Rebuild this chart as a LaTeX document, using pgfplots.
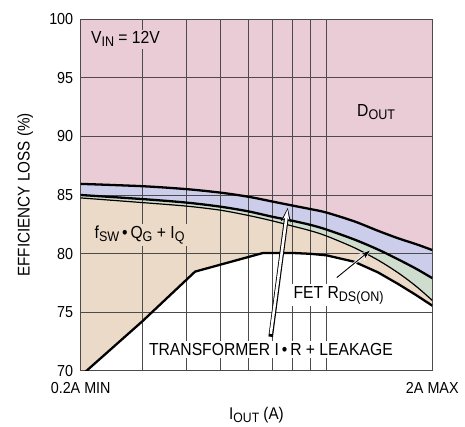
\documentclass[border=0pt]{standalone}
\usepackage{fontspec}
\setmainfont{Liberation Sans}[FakeStretch=0.9]
\usepackage{pgfplots}
\usepackage{pgfplotstable}
\pgfplotsset{compat=1.18}
\usetikzlibrary{arrows.meta}

\definecolor{dpink}{RGB}{233,204,214}
\definecolor{tblue}{RGB}{203,205,234}
\definecolor{fgreen}{RGB}{206,221,205}
\definecolor{qtan}{RGB}{235,218,200}
\definecolor{gridc}{RGB}{75,75,75}

\newcommand{\sub}[1]{\raisebox{-0.32ex}{\scalebox{0.8}{#1}}}

% D_OUT lower boundary (top of transformer band)
\pgfplotstableread{
x y
0.2 85.95
0.3 85.75
0.4 85.5
0.5 85.2
0.6 84.85
0.7 84.45
0.8 84.1
0.9 83.8
1.0 83.5
1.2 82.75
1.4 81.95
1.6 81.3
1.8 80.8
2.0 80.3
}\Lone
% transformer / FET boundary
\pgfplotstableread{
x y
0.2 85.0
0.3 84.65
0.4 84.35
0.5 84.0
0.6 83.6
0.7 83.15
0.8 82.8
0.9 82.45
1.0 82.05
1.2 81.2
1.4 80.35
1.6 79.5
1.8 78.7
2.0 77.9
}\Ltwo
% FET / switching boundary
\pgfplotstableread{
x y
0.2 84.75
0.3 84.35
0.4 84.05
0.5 83.7
0.6 83.25
0.7 82.8
0.8 82.35
0.9 81.95
1.0 81.5
1.2 80.5
1.4 79.45
1.6 78.35
1.8 77.2
2.0 76.0
}\Lthree
% efficiency (switching loss lower boundary)
\pgfplotstableread{
x y
0.2 69.55
0.3 74.24
0.423 78.46
0.66 80.05
0.8 80.05
0.9 79.98
1.0 79.85
1.2 79.3
1.4 78.4
1.6 77.4
1.8 76.45
2.0 75.55
}\Lfour

\begin{document}
\begin{tikzpicture}
\begin{axis}[
  set layers=standard,
  clip mode=individual,
  width=351.6bp, height=351.4bp, scale only axis,
  xmode=log, xmin=0.2, xmax=2, ymin=70, ymax=100,
  xtick={0.2,2}, xticklabels={0.2A MIN,2A MAX},
  minor xtick={0.3,0.4,0.5,0.6,0.7,0.8,0.9,1.0},
  xminorgrids=true, xmajorgrids=false,
  ytick={70,75,80,85,90,95,100}, ymajorgrids=true,
  tick style={draw=none},
  grid style={gridc, line width=0.8pt},
  minor grid style={gridc, line width=0.8pt},
  axis line style={gridc, line width=1pt},
  axis background/.style={fill=dpink},
  /pgf/number format/assume math mode=true,
  ticklabel style={font=\fontsize{16}{18}\selectfont},
  yticklabel style={xshift=-4pt},
  xticklabel style={yshift=-8pt},
  xlabel={I\sub{OUT} (A)},
  ylabel={EFFICIENCY LOSS (\%)},
  label style={font=\fontsize{17}{19}\selectfont},
  xlabel style={at={(axis description cs:0.5,-0.127)}, anchor=center},
  ylabel style={at={(axis description cs:-0.158,0.5)}, anchor=center},
]
\addplot[on layer=axis background, fill=tblue, draw=none, smooth, tension=0.5] table[x=x,y=y]{\Lone} \closedcycle;
\addplot[on layer=axis background, fill=fgreen, draw=none, smooth, tension=0.5] table[x=x,y=y]{\Ltwo} \closedcycle;
\addplot[on layer=axis background, fill=qtan, draw=none, smooth, tension=0.5] table[x=x,y=y]{\Lthree} \closedcycle;
\addplot[on layer=axis background, fill=white, draw=none] table[x=x,y=y]{\Lfour} \closedcycle;

\addplot[black, line width=2.3pt, smooth, tension=0.5] table[x=x,y=y]{\Lone};
\addplot[black, line width=2.3pt, smooth, tension=0.5] table[x=x,y=y]{\Ltwo};
\addplot[black, line width=1.2pt, smooth, tension=0.5] table[x=x,y=y]{\Lthree};
\addplot[black, line width=2.3pt, line join=round] table[x=x,y=y]{\Lfour};

% annotations
\node[anchor=base west, fill=dpink, inner sep=2pt, font=\fontsize{17.5}{19}\selectfont] at (axis cs:0.211,97.9) {V\sub{IN} = 12V};
\node[fill=dpink, inner sep=2pt, font=\fontsize{17.5}{19}\selectfont] at (axis cs:1.384,92.1) {D\sub{OUT}};
\node[anchor=west, fill=qtan, inner sep=2pt, font=\fontsize{17.5}{19}\selectfont] at (axis cs:0.216,81.6) {f\sub{SW}\,\textbullet\,Q\sub{G} + I\sub{Q}};
\node[anchor=west, fill=white, inner sep=2pt, font=\fontsize{17.5}{19}\selectfont] at (axis cs:0.795,76.45) {FET R\sub{DS(ON)}};
\node[fill=white, inner sep=2pt, font=\fontsize{17.5}{19}\selectfont] at (axis cs:0.695,71.8) {TRANSFORMER I\,\textbullet\,R + LEAKAGE};

% transformer arrow (white with black outline)
\draw[black, line width=4.6pt, -{Stealth[length=14pt,width=10pt]}] (axis cs:0.694,72.9) -- (axis cs:0.776,83.9);
\draw[white, line width=2.6pt, shorten >=1.8pt, -{Stealth[length=10pt,width=6pt]}] (axis cs:0.6945,73.15) -- (axis cs:0.776,83.9);
% FET arrow (black with white halo)
\draw[white, line width=2.6pt, -{Stealth[length=12pt,width=9pt]}] (axis cs:1.07,77.95) -- (axis cs:1.335,80.3);
\draw[black, line width=0.9pt, shorten >=1pt, -{Stealth[length=9pt,width=6pt]}] (axis cs:1.07,77.95) -- (axis cs:1.335,80.3);

\coordinate (LL) at (rel axis cs:0,0);
\coordinate (UR) at (rel axis cs:1,1);
\end{axis}
\pgfresetboundingbox
\path ([xshift=-80.7bp,yshift=-56.3bp]LL) rectangle ([xshift=32.7bp,yshift=19.3bp]UR);
\end{tikzpicture}
\end{document}
